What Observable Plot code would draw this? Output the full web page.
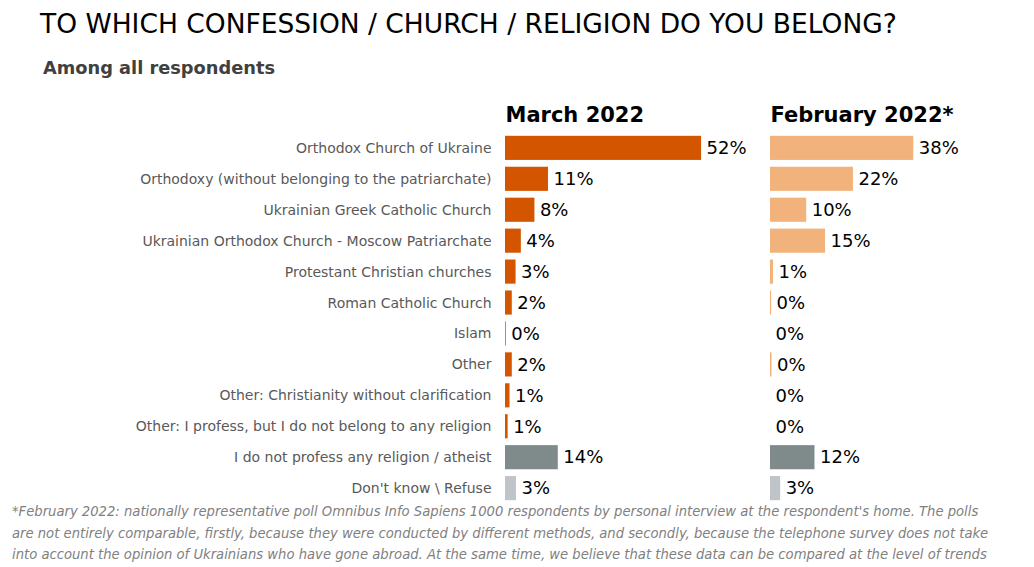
<!DOCTYPE html>
<html>
<head>
<meta charset="utf-8">
<script src="https://cdn.jsdelivr.net/npm/d3@7"></script>
<script src="https://cdn.jsdelivr.net/npm/@observablehq/plot@0.6"></script>
<style>
  html, body { margin: 0; padding: 0; background: #fff; }
  body { width: 1034px; height: 567px; position: relative; overflow: hidden; font-family: "DejaVu Sans", sans-serif; }
  #title { position: absolute; left: 40px; top: 8px; font-size: 26.5px; color: #000; white-space: nowrap; }
  #subtitle { position: absolute; left: 43px; top: 57px; font-size: 17.8px; font-weight: bold; color: #404040; white-space: nowrap; }
  #chart { position: absolute; left: 0; top: 90px; }
  #note { position: absolute; left: 12px; top: 500px; font-family: "Liberation Sans Narrow", "DejaVu Sans Condensed", sans-serif; font-stretch: condensed; font-style: italic; font-size: 14.65px; line-height: 21.5px; color: #808080; white-space: nowrap; }
</style>
</head>
<body>
<div id="title">TO WHICH CONFESSION / CHURCH / RELIGION DO YOU BELONG?</div>
<div id="subtitle">Among all respondents</div>
<div id="chart"></div>
<div id="note">*February 2022: nationally representative poll Omnibus Info Sapiens 1000 respondents by personal interview at the respondent's home. The polls<br>are not entirely comparable, firstly, because they were conducted by different methods, and secondly, because the telephone survey does not take<br>into account the opinion of Ukrainians who have gone abroad. At the same time, we believe that these data can be compared at the level of trends</div>
<script>
const periods = ["March 2022", "February 2022*"];
const categories = [
  "Orthodox Church of Ukraine",
  "Orthodoxy (without belonging to the patriarchate)",
  "Ukrainian Greek Catholic Church",
  "Ukrainian Orthodox Church - Moscow Patriarchate",
  "Protestant Christian churches",
  "Roman Catholic Church",
  "Islam",
  "Other",
  "Other: Christianity without clarification",
  "Other: I profess, but I do not belong to any religion",
  "I do not profess any religion / atheist",
  "Don't know \\ Refuse"
];
const march2022 = [52, 11.4, 7.8, 4.2, 2.8, 1.8, 0.2, 1.8, 1.2, 0.7, 14, 2.9];
const february2022 = [38, 22, 9.6, 14.6, 0.8, 0.3, 0, 0.4, 0, 0, 11.8, 2.7];

const periodColors = {"March 2022": "#D45500", "February 2022*": "#F1B27B"};
const atheistColor = "#7F8B8A";
const dkColor = "#BFC4C9";

const rows = [];
categories.forEach((c, i) => {
  [[periods[0], march2022[i]], [periods[1], february2022[i]]].forEach(([p, v]) => {
    let fill = periodColors[p];
    if (i === categories.length - 2) fill = atheistColor;
    if (i === categories.length - 1) fill = dkColor;
    rows.push({category: c, period: p, value: v, fill});
  });
});

const chart = Plot.plot({
  width: 1034,
  height: 417,
  marginLeft: 505,
  marginRight: 34,
  marginTop: 39,
  marginBottom: 0,
  style: {fontFamily: "DejaVu Sans, sans-serif", background: "transparent"},
  fx: {domain: periods, paddingInner: 0.132, paddingOuter: 0, round: false, axis: null},
  x: {domain: [0, 61], axis: null},
  y: {domain: categories, padding: 0.22, round: false, label: null},
  marks: [
    Plot.axisY({tickSize: 0, tickPadding: 14, fontSize: 14, color: "#595959", label: null}),
    Plot.barX(rows, {fx: "period", y: "category", x: "value", fill: "fill"}),
    Plot.text(rows, {fx: "period", y: "category", x: "value", text: d => d3.format(".0f")(d.value) + "%", textAnchor: "start", dx: 5, fontSize: 18, fill: "#000"}),
    Plot.text(periods, {fx: d => d, text: d => d, frameAnchor: "top-left", lineAnchor: "middle", dy: -14, dx: 0, fontSize: 21, fontWeight: "bold", fill: "#000"})
  ]
});
document.getElementById("chart").appendChild(chart);
</script>
</body>
</html>
